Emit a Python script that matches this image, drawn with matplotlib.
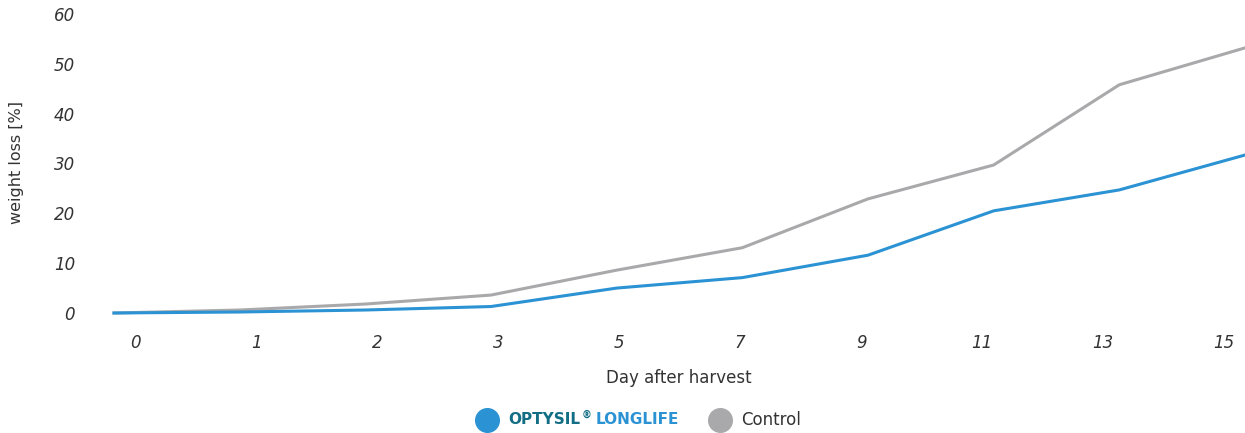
import numpy as np
import matplotlib.pyplot as plt
from matplotlib.lines import Line2D

days = ['0', '1', '2', '3', '5', '7', '9', '11', '13', '15']
optysil = [0.0, 0.2, 0.6, 1.3, 5.0, 7.1, 11.6, 20.5, 24.7, 31.7]
control = [0.0, 0.6, 1.8, 3.6, 8.6, 13.1, 22.9, 29.7, 45.8, 53.2]

blue = '#2b93d3'
grey = '#a9a9ab'
teal = '#126e84'
txt = '#333333'

fig = plt.figure(figsize=(12.45, 4.33), dpi=100)
ax = fig.add_axes([114 / 1245, 1 - 313 / 433, 1 - 114 / 1245, 299 / 433])

x = np.arange(len(days))
ax.plot(x, control, color=grey, lw=2.2, clip_on=False)
ax.plot(x, optysil, color=blue, lw=2.2, clip_on=False)

ax.set_xlim(0, len(days) - 1)
ax.set_ylim(0, 60)
ax.set_yticks(range(0, 61, 10))
# labels in the original sit a bit off the data points
ax.set_xticks(x * 0.963 + 0.167)
ax.set_xticklabels(days)
for s in ax.spines.values():
    s.set_visible(False)
ax.tick_params(length=0, labelsize=12, labelcolor=txt)
ax.tick_params(axis='y', pad=28)
ax.tick_params(axis='x', pad=15)
for lab in ax.get_xticklabels() + ax.get_yticklabels():
    lab.set_fontstyle('italic')

fig.text(17 / 1245, 1 - 162 / 433, 'weight loss [%]', rotation=90, ha='center', va='center',
         fontsize=11.5, color=txt)
fig.text(679 / 1245, 1 - 378 / 433, 'Day after harvest', ha='center', va='center',
         fontsize=12, color=txt)

# legend
ly = 1 - 420 / 433
fig.add_artist(Line2D([487 / 1245], [ly], marker='o', ms=17, color=blue, transform=fig.transFigure))
fig.add_artist(Line2D([720 / 1245], [ly], marker='o', ms=17, color=grey, transform=fig.transFigure))
t1 = fig.text(508 / 1245, ly, 'OPTYSIL', ha='left', va='center', fontsize=11,
              fontweight='bold', color=teal)
fig.canvas.draw()
bb = t1.get_window_extent()
t2 = fig.text(bb.x1 / fig.bbox.width + 0.001, ly + 0.012, '®', ha='left', va='center', fontsize=7,
              fontweight='bold', color=teal)
fig.canvas.draw()
bb = t2.get_window_extent()
fig.text(bb.x1 / fig.bbox.width + 0.004, ly, 'LONGLIFE', ha='left', va='center', fontsize=11,
         fontweight='bold', color=blue)
fig.text(741 / 1245, ly, 'Control', ha='left', va='center', fontsize=12, color=txt)

fig.savefig('out.png', dpi=100)
